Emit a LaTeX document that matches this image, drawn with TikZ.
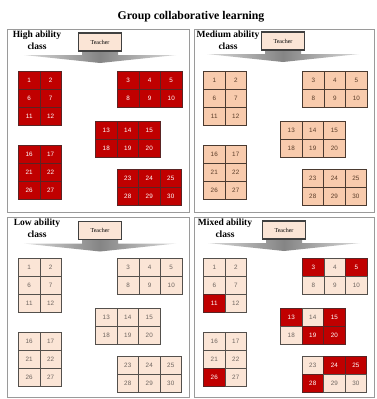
\documentclass[tikz,border=0pt]{standalone}
\usepackage{fontspec}
\setmainfont{Liberation Serif}
\newfontfamily\numfont{Liberation Sans}

\definecolor{seatred}{HTML}{C00000}
\definecolor{seatredline}{HTML}{5A2424}
\definecolor{seatmid}{HTML}{F8CBAD}
\definecolor{seatmidline}{HTML}{4A3A30}
\definecolor{seatmidtext}{HTML}{5A3C28}
\definecolor{seatlow}{HTML}{FBE5D6}
\definecolor{seatlowline}{HTML}{54504C}
\definecolor{seatlowtext}{HTML}{6E655F}
\definecolor{panelline}{HTML}{9A9A9A}

\tikzset{
  panel/.style={draw=panelline, line width=1.2pt, anchor=north west, inner sep=0pt},
  classlabel/.style={anchor=north, align=center, inner sep=1pt,
    font=\fontsize{9.5}{12}\selectfont\bfseries},
  teacherbox/.style={draw=black!75, line width=1.3pt, fill=seatlow,
    minimum width=43pt, minimum height=18pt, inner sep=0pt,
    font=\fontsize{6}{7}\selectfont},
  arrowshade/.style={left color=black!15, right color=black!15, middle color=black!48},
  seatbase/.style={anchor=north west, minimum width=21.5pt, minimum height=18pt,
    inner sep=0pt, line width=1pt, font=\numfont\fontsize{6.3}{7}\selectfont},
  redseat/.style={seatbase, draw=seatredline, fill=seatred, text=white},
  midseat/.style={seatbase, draw=seatmidline, fill=seatmid, text=seatmidtext},
  lowseat/.style={seatbase, draw=seatlowline, fill=seatlow, text=seatlowtext},
}

% #1 prefix, #2 x, #3 y, #4 first seat, #5 columns, #6 rows,
% #7 base style, #8 comma list of seats drawn in red
\makeatletter
\newcommand\seatgroup[8]{%
  \foreach \r in {1,...,#6}{%
    \foreach \c in {1,...,#5}{%
      \pgfmathtruncatemacro\n{#4+5*(\r-1)+(\c-1)}%
      \edef\seattest{\noexpand\in@{,\n,}{,#8,}}\seattest
      \ifin@\def\seatsty{redseat}\else\def\seatsty{#7}\fi
      \node[\seatsty] (#1-\n) at ({#2+(\c-1)*21.5},{#3+(\r-1)*18}) {\n};
    }%
  }%
}
\makeatother

% #1 centre x, #2 bottom of the teacher box
\newcommand\teacherarrow[2]{%
  \shade[arrowshade] ({#1-18},#2) -- ({#1+18},#2) -- ({#1+18},{#2+4})
    -- ({#1+76},{#2+4}) -- (#1,{#2+12}) -- ({#1-76},{#2+4})
    -- ({#1-18},{#2+4}) -- cycle;
}

% #1 prefix, #2 left x (groups A, D), #3 top y, #4 style, #5 red list
\newcommand\classroom[5]{%
  \seatgroup{#1a}{#2}{#3}{1}{2}{3}{#4}{#5}
  \seatgroup{#1b}{#2+99}{#3}{3}{3}{2}{#4}{#5}
  \seatgroup{#1c}{#2+77}{#3+50}{13}{3}{2}{#4}{#5}
  \seatgroup{#1d}{#2}{#3+74}{16}{2}{3}{#4}{#5}
  \seatgroup{#1e}{#2+98.5}{#3+98}{23}{3}{2}{#4}{#5}
}

\begin{document}
\begin{tikzpicture}[x=1pt, y=-1pt]
\useasboundingbox[fill=white] (0,0) rectangle (377,399);

\node[font=\fontsize{11.8}{14}\selectfont\bfseries] (title) at (191,17) {Group collaborative learning};

% four class panels
\node[panel, minimum width=182pt, minimum height=183pt] (pHigh) at (7,29) {};
\node[panel, minimum width=180pt, minimum height=183pt] (pMid) at (194,29) {};
\node[panel, minimum width=182pt, minimum height=180pt] (pLow) at (7,217) {};
\node[panel, minimum width=180pt, minimum height=180pt] (pMix) at (194,217) {};

\node[classlabel] (lHigh) at (37,29.5) {High ability\\class};
\node[classlabel] (lMid) at (228,29.5) {Medium ability\\class};
\node[classlabel] (lLow) at (37,217.5) {Low ability\\class};
\node[classlabel] (lMix) at (225,217.5) {Mixed ability\\class};

% teachers facing the class
\teacherarrow{100}{51}
\teacherarrow{283}{50}
\teacherarrow{100}{239.5}
\teacherarrow{284}{239}
\node[teacherbox] (tHigh) at (100,42) {Teacher};
\node[teacherbox] (tMid) at (283,41) {Teacher};
\node[teacherbox] (tLow) at (100,230.5) {Teacher};
\node[teacherbox] (tMix) at (284,230) {Teacher};

% seating groups
\classroom{hi}{18}{71}{redseat}{}
\classroom{md}{203}{71}{midseat}{}
\classroom{lo}{18}{258}{lowseat}{}
\classroom{mx}{203}{258}{lowseat}{3,5,11,13,15,19,20,24,25,26,28}
\end{tikzpicture}
\end{document}
